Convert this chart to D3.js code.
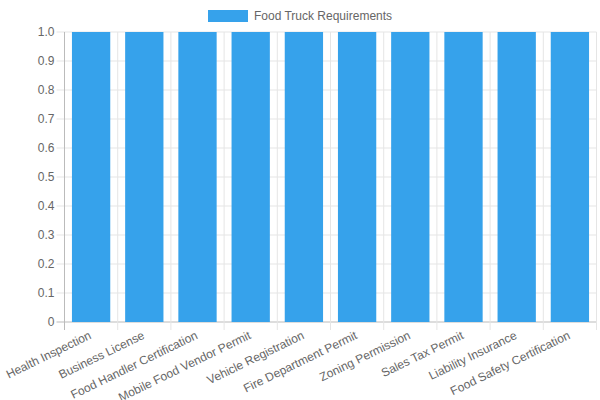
<!DOCTYPE html>
<html><head><meta charset="utf-8">
<script src="https://cdn.jsdelivr.net/npm/d3@7"></script>
<style>body{margin:0;background:#fff}svg{font-family:"Liberation Sans",Arial,sans-serif}</style>
</head><body><svg id="c" width="600" height="400"></svg>
<script>
const categories = ["Health Inspection","Business License","Food Handler Certification","Mobile Food Vendor Permit","Vehicle Registration","Fire Department Permit","Zoning Permission","Sales Tax Permit","Liability Insurance","Food Safety Certification"];
const values = [1,1,1,1,1,1,1,1,1,1];
const yTicks = [0,0.1,0.2,0.3,0.4,0.5,0.6,0.7,0.8,0.9,1.0];
const seriesName = "Food Truck Requirements";

const svg = d3.select("#c");
const L = 64.5, R = 596.5, T = 32, B = 322;
const x = d3.scaleBand().domain(categories).range([L, R]).paddingInner(0).paddingOuter(0);
const y = d3.scaleLinear().domain([0, 1]).range([B, T]);
const grid = "#e5e5e5";

// horizontal grid
svg.append("g").selectAll("line").data(yTicks).join("line")
  .attr("x1", L - 8).attr("x2", R).attr("y1", d => y(d)).attr("y2", d => y(d))
  .attr("stroke", (d) => d === 0 ? "#bbb" : grid).attr("stroke-width", 1);
// vertical grid
const vx = categories.map(c => x(c)).concat([R]);
svg.append("g").selectAll("line").data(vx).join("line")
  .attr("x1", d => d).attr("x2", d => d).attr("y1", T).attr("y2", B + 8)
  .attr("stroke", (d, i) => i === 0 ? "#bbb" : grid).attr("stroke-width", 1);

// bars
const bw = x.bandwidth() * 0.72;
svg.append("g").selectAll("rect").data(categories).join("rect")
  .attr("x", (d) => x(d) + (x.bandwidth() - bw) / 2)
  .attr("width", bw)
  .attr("y", (d, i) => y(values[i]))
  .attr("height", (d, i) => y(0) - y(values[i]))
  .attr("fill", "#36a2eb");

// y labels
svg.append("g").selectAll("text").data(yTicks).join("text")
  .attr("x", L - 10).attr("y", d => y(d)).attr("dy", "0.35em")
  .attr("text-anchor", "end").attr("font-size", 12).attr("fill", "#666")
  .text(d => d === 0 ? "0" : d.toFixed(1));

// x labels rotated
svg.append("g").selectAll("text").data(categories).join("text")
  .attr("transform", d => `translate(${x(d) + x.bandwidth() / 2 + 1},${B + 16}) rotate(-26)`)
  .attr("text-anchor", "end").attr("font-size", 12).attr("fill", "#666")
  .text(d => d);

// legend
svg.append("rect").attr("x", 208).attr("y", 10).attr("width", 40).attr("height", 12).attr("fill", "#36a2eb");
svg.append("text").attr("x", 254).attr("y", 16).attr("dy", "0.35em").attr("font-size", 12).attr("fill", "#666").text(seriesName);
</script></body></html>
